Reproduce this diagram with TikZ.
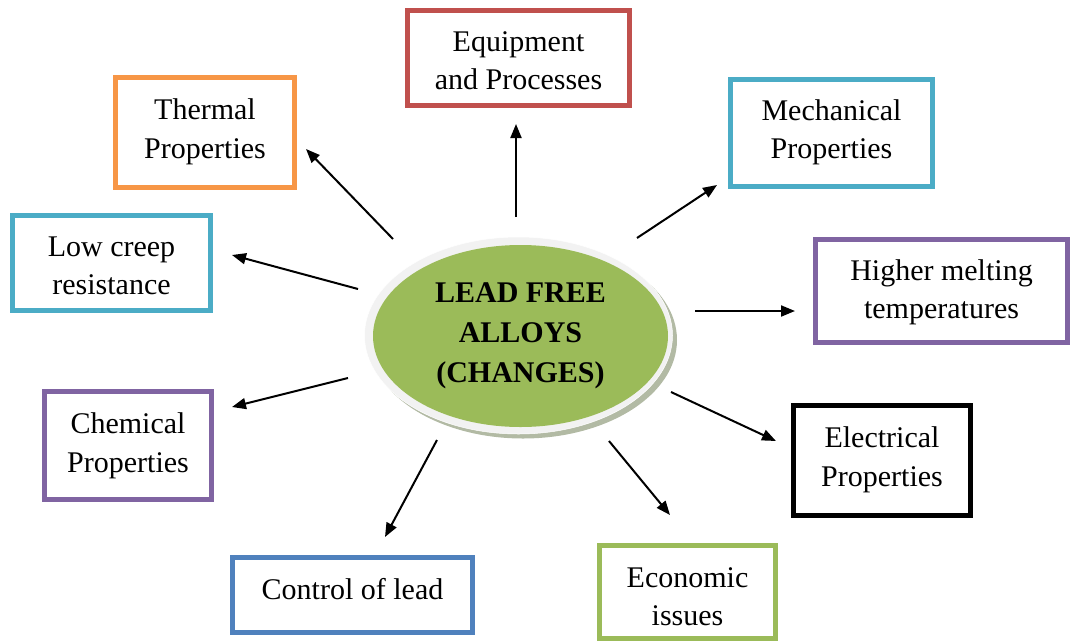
\documentclass[tikz,border=0pt]{standalone}
\usepackage{fontspec}
\setmainfont{Liberation Serif}
\usetikzlibrary{arrows.meta,shapes.geometric}
\definecolor{cRed}{HTML}{C0504D}
\definecolor{cOrange}{HTML}{F79646}
\definecolor{cTeal}{HTML}{4BACC6}
\definecolor{cPurple}{HTML}{8064A2}
\definecolor{cBlue}{HTML}{4F81BD}
\definecolor{cGreen}{HTML}{9BBB59}
\definecolor{cRim}{HTML}{F2F2F2}
\definecolor{cShadow}{HTML}{B2BAA4}
\newcommand{\boxtxt}[2]{\raisebox{#1}[\height][\depth]{\begin{tabular}{@{}c@{}}#2\end{tabular}}}
\tikzset{
  box/.style={draw, line width=5pt, fill=white, align=center, inner sep=0pt,
    font=\fontsize{30}{38.5}\selectfont},
  arr/.style={line width=2pt, -{Triangle[length=14pt,width=11pt]}},
}
\begin{document}
\begin{tikzpicture}[x=1pt,y=-1pt]
\useasboundingbox (0,0) rectangle (1072,641);
% central ellipse
\node[ellipse, fill=cShadow, minimum width=308pt, minimum height=197pt, inner sep=0pt] (shadow) at (523,340) {};
\node[ellipse, fill=cRim, draw=white, line width=0.5pt, minimum width=308pt, minimum height=197pt, inner sep=0pt] (rim) at (518.5,335.5) {};
\node[ellipse, fill=cGreen, minimum width=295pt, minimum height=182pt, inner sep=0pt, align=center,
  font=\fontsize{30}{40}\selectfont\bfseries] (c) at (520.5,336) {LEAD FREE\\ALLOYS\\(CHANGES)};
% boxes
\node[box, draw=cRed, minimum width=222pt, minimum height=95pt] (equip) at (518.5,58) {\boxtxt{-5pt}{Equipment\\and Processes}};
\node[box, draw=cOrange, minimum width=179pt, minimum height=110pt] (thermal) at (205,132.5) {\boxtxt{1pt}{Thermal\\Properties}};
\node[box, draw=cTeal, minimum width=202pt, minimum height=107pt] (mech) at (831.5,133) {\boxtxt{1pt}{Mechanical\\Properties}};
\node[box, draw=cTeal, minimum width=198pt, minimum height=95pt] (creep) at (111.5,263) {\boxtxt{-5pt}{Low creep\\resistance}};
\node[box, draw=cPurple, minimum width=252pt, minimum height=103pt] (melt) at (941.5,291) {\boxtxt{-1pt}{Higher melting\\temperatures}};
\node[box, draw=cPurple, minimum width=167pt, minimum height=108pt] (chem) at (128,445.5) {\boxtxt{0pt}{Chemical\\Properties}};
\node[box, draw=black, minimum width=177pt, minimum height=110pt] (elec) at (882,460.5) {\boxtxt{1pt}{Electrical\\Properties}};
\node[box, draw=cBlue, minimum width=240pt, minimum height=75pt] (ctrl) at (352.5,595) {\boxtxt{3pt}{Control of lead}};
\node[box, draw=cGreen, minimum width=176pt, minimum height=93pt] (econ) at (687.5,592) {\boxtxt{-7pt}{Economic\\issues}};
% arrow end points
\coordinate (t1s) at (393,239); \coordinate (t1e) at (306,149);
\coordinate (t2s) at (516,217); \coordinate (t2e) at (516,124);
\coordinate (t3s) at (637,238); \coordinate (t3e) at (717,185);
\coordinate (t4s) at (358,289); \coordinate (t4e) at (232,255);
\coordinate (t5s) at (695,311); \coordinate (t5e) at (795,311);
\coordinate (t6s) at (348,378); \coordinate (t6e) at (232,407);
\coordinate (t7s) at (671,392); \coordinate (t7e) at (776,441);
\coordinate (t8s) at (437,440); \coordinate (t8e) at (385,537);
\coordinate (t9s) at (609,441); \coordinate (t9e) at (670,515);
\draw[arr] (t1s) -- (t1e);
\draw[arr] (t2s) -- (t2e);
\draw[arr] (t3s) -- (t3e);
\draw[arr] (t4s) -- (t4e);
\draw[arr] (t5s) -- (t5e);
\draw[arr] (t6s) -- (t6e);
\draw[arr] (t7s) -- (t7e);
\draw[arr] (t8s) -- (t8e);
\draw[arr] (t9s) -- (t9e);
\end{tikzpicture}
\end{document}
